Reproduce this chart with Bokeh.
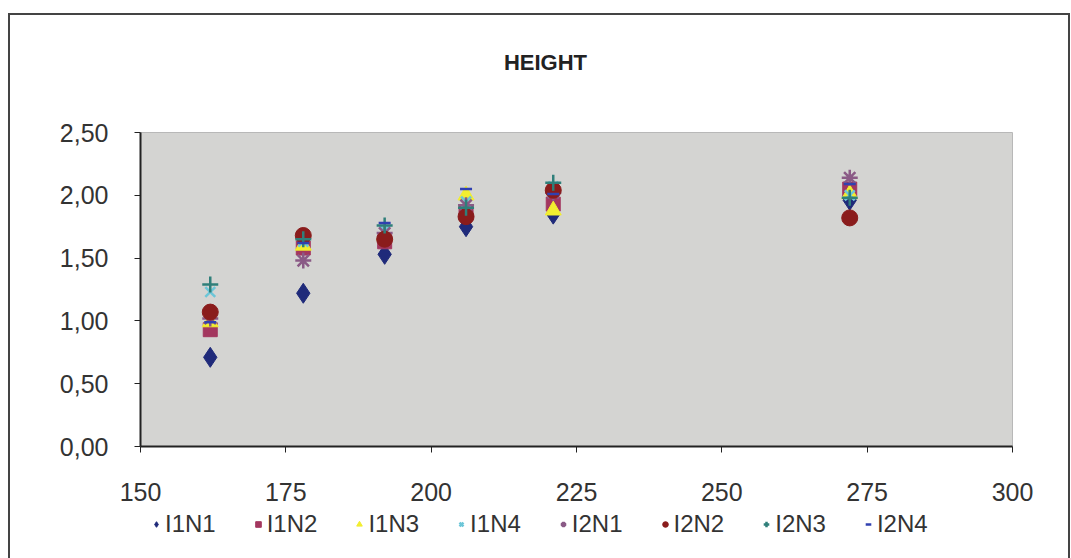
from bokeh.plotting import figure
from bokeh.models import Legend, LegendItem, CustomJSTickFormatter, FixedTicker, Range1d, Label
from bokeh.embed import file_html
from bokeh.resources import INLINE

days = [162, 178, 192, 206, 221, 272]
I1N1 = [0.71, 1.22, 1.53, 1.75, 1.85, 1.96]
I1N2 = [0.93, 1.58, 1.63, 1.86, 1.93, 2.05]
I1N3 = [0.99, 1.60, 1.68, 2.00, 1.88, 2.01]
I1N4 = [1.23, 1.63, 1.72, 1.95, 2.07, 2.00]
I2N1 = [1.02, 1.48, 1.70, 1.92, 2.02, 2.14]
I2N2 = [1.07, 1.68, 1.65, 1.83, 2.04, 1.82]
I2N3 = [1.29, 1.65, 1.76, 1.90, 2.10, 1.98]
I2N4 = [0.99, 1.62, 1.78, 2.05, 2.01, 2.09]

x_ticks = [150, 175, 200, 225, 250, 275, 300]
y_ticks = [0, 0.5, 1.0, 1.5, 2.0, 2.5]
X_MIN, X_MAX = 150, 300
Y_MIN, Y_MAX = 0.0, 2.5

series = [
    ("I1N1", I1N1, "diamond", "#1f2a7a", 20),
    ("I1N2", I1N2, "square", "#a3375f", 14),
    ("I1N3", I1N3, "triangle", "#f2ee30", 16),
    ("I1N4", I1N4, "x", "#6cc6d8", 14),
    ("I2N1", I2N1, "asterisk", "#8a5a86", 16),
    ("I2N2", I2N2, "circle", "#8a1c1c", 16),
    ("I2N3", I2N3, "cross", "#2f7f7a", 16),
    ("I2N4", I2N4, "dash", "#3040b0", 12),
]

# frame spans the whole chart; plot area (150..300 x 0..2.5) sits inside it
ppy = 314 / (Y_MAX - Y_MIN)
ppx = 872 / (X_MAX - X_MIN)
y_lo = Y_MIN - 112 / ppy
y_hi = Y_MAX + 117 / ppy
x_lo = X_MIN - 130 / ppx
x_hi = X_MAX + 56 / ppx

p = figure(frame_width=1058, frame_height=543, output_backend="svg", toolbar_location=None,
           x_range=Range1d(x_lo, x_hi), y_range=Range1d(y_lo, y_hi),
           min_border_left=0, min_border_right=0, min_border_top=0, min_border_bottom=0,
           margin=(13, 0, 0, 8))
p.styles = {"border-left": "2px solid #444", "border-top": "2px solid #444", "border-right": "2px solid #444"}
p.background_fill_color = "white"
p.border_fill_color = "white"
p.outline_line_color = None
p.grid.visible = False
p.title.visible = False

p.quad(left=X_MIN, right=X_MAX, bottom=Y_MIN, top=Y_MAX,
       fill_color="#d4d4d2", line_color="#b8b8b8", line_width=1)

fmt = CustomJSTickFormatter(code="return tick.toFixed(2).replace('.', ',');")
p.yaxis.formatter = fmt
p.yaxis.ticker = FixedTicker(ticks=y_ticks)
p.yaxis.bounds = (Y_MIN, Y_MAX)
p.yaxis.fixed_location = X_MIN
p.xaxis.ticker = FixedTicker(ticks=x_ticks)
p.xaxis.bounds = (X_MIN, X_MAX)
p.xaxis.fixed_location = Y_MIN
for ax in (p.xaxis, p.yaxis):
    ax.axis_label = None
    ax.axis_line_color = "#222"
    ax.axis_line_width = 2
    ax.major_tick_line_color = "#222"
    ax.major_tick_out = 6
    ax.major_tick_in = 0
    ax.minor_tick_line_color = None
    ax.major_label_text_font = "Liberation Sans"
    ax.major_label_text_font_size = "25px"
    ax.major_label_text_color = "#333"
p.xaxis.major_label_standoff = 30
p.yaxis.major_label_standoff = 26

items = []
for name, vals, marker, color, size in series:
    if marker in ("x", "asterisk", "cross", "dash"):
        r = p.scatter(days, vals, marker=marker, size=size, line_color=color, line_width=2.5, fill_color=color)
    else:
        r = p.scatter(days, vals, marker=marker, size=size, fill_color=color, line_color=color)
    items.append(LegendItem(label=name, renderers=[r]))

legend = Legend(items=items, orientation="horizontal", location=(139, 20),
                glyph_width=14, glyph_height=14, label_standoff=2, spacing=35,
                background_fill_alpha=0, border_line_color=None, margin=0,
                label_text_font="Liberation Sans", label_text_font_size="24px",
                label_text_color="#333", padding=4)
p.add_layout(legend, "center")

title = Label(x=X_MIN + 405 / ppx, y=Y_MAX + 70 / ppy,
              text="HEIGHT", text_font="Liberation Sans", text_font_style="bold",
              text_font_size="22px", text_align="center", text_baseline="middle",
              text_color="#222")
p.add_layout(title)

open("out.html", "w").write(file_html(p, INLINE))
